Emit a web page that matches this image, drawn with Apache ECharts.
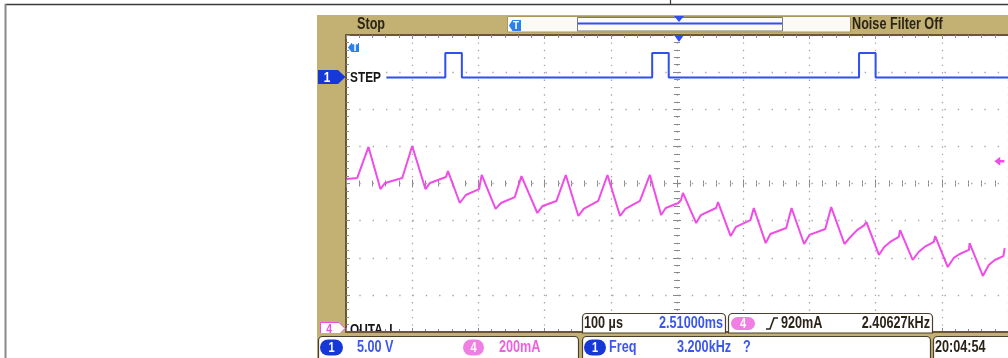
<!DOCTYPE html>
<html><head><meta charset="utf-8">
<script src="https://cdn.jsdelivr.net/npm/echarts@6/dist/echarts.min.js"></script>
<style>html,body{margin:0;padding:0;background:#fff}#c{width:1008px;height:358px}</style>
</head><body><div id="c"></div>
<script>
// ---- data (time in µs relative to trigger, CH1 in volts, CH4 in mA) ----
const stepTimeUs = [-439, -350, -350, -325, -325, -37.5, -37.5, -12.5, -12.5, 275, 275, 300, 300, 500];
const stepVolts  = [0, 0, 3.3, 3.3, 0, 0, 3.3, 3.3, 0, 0, 3.3, 3.3, 0, 0];

const outaTimeUs = [-499,-483,-466,-448,-441,-415,-400,-380,-373,-349,-346,-328,-319,-299,-295,-274,-266,-245,-235,-211,-203,-182,-168,-149,-141,-119,-105,-86,-78,-56,-41,-24,-17,2,6,9,29,36,59,62,81,89,111,116,134,141,165,173,192,200,224,233,253,262,272,283,286,305,313,322,335,337,356,365,374,388,390,409,418,427,441,442,462,471,480,493,495];
const outaMilliAmps = [824,830,997,770,803,830,1002,770,803,835,867,695,738,770,846,663,695,727,840,641,679,706,846,625,663,706,846,625,663,706,846,630,668,695,711,749,587,630,668,700,517,566,603,668,479,528,560,668,474,523,555,673,474,512,549,576,593,415,458,485,512,549,388,431,458,485,517,350,399,420,442,479,302,361,388,409,452];

const triggerLevelMa = 920;
const timeRangeUs = [-500, 500];     // 100 µs/div, 10 div
const ch1RangeV = [-34.28, 5.72];    // 5.00 V/div
const ch4RangeMa = [0, 1600];        // 200 mA/div

const F = "'Liberation Sans','Arimo',sans-serif";
const SX = 0.79;
const TAN = '#c3b173', BROWN = '#6f5530', DARK = '#2b2418', BLUE = '#2f4ff0', PILLB = '#1638d8', PINK = '#f04ce6', PILLP = '#f07ee4', TXTP = '#ee5fe0', TXTB = '#3a56ee';

const chart = echarts.init(document.getElementById('c'), null, {renderer: 'canvas'});

const dotV = {show: true, lineStyle: {color: '#a8a8a8', width: 1.3, type: [1.4, 6.02]}};
const dotH = {show: true, lineStyle: {color: '#a8a8a8', width: 1.3, type: [1.4, 11.9]}};
const tickStyle = {color: '#8a8a8a', width: 1};
function borderAxis(extra) {
  return Object.assign({
    type: 'value', axisLabel: {show: false}, splitLine: {show: false},
    axisLine: {show: true, onZero: false, lineStyle: {color: BROWN, width: 2}},
    axisTick: {show: true, inside: true, length: 4, lineStyle: tickStyle},
    minorTick: {show: true, splitNumber: 5, length: 3, lineStyle: tickStyle}
  }, extra);
}
function centerAxis(extra) {
  return Object.assign({
    type: 'value', axisLabel: {show: false}, splitLine: {show: false},
    axisLine: {show: false, onZero: true, onZeroAxisIndex: 0},
    axisTick: {show: true, inside: true, length: 4, lineStyle: tickStyle},
    minorTick: {show: true, splitNumber: 5, length: 3, lineStyle: tickStyle}
  }, extra);
}
const tx = (text, x, y, fill, size, align, extra) => Object.assign({
  type: 'text', z: 60, x, y, scaleX: SX,
  style: {text, x: 0, y: 0, fill, font: 'bold ' + (size || 16) + 'px ' + F, textAlign: align || 'left', textVerticalAlign: 'middle'}
}, extra || {});
const pill = (x, y, w, h, fill, label) => [
  {type: 'rect', z: 55, shape: {x, y, width: w, height: h, r: h / 2}, style: {fill}},
  tx(label, x + w / 2, y + h / 2 + 0.5, '#fff', 14, 'center')
];
const box = (x, y, w, h, r) => ({type: 'rect', z: 50, shape: {x, y, width: w, height: h, r}, style: {fill: '#fff', stroke: '#4a3f2c', lineWidth: 1.2}});

const graphics = [
  {type: 'line', z: 1, shape: {x1: 5, y1: 4.5, x2: 1008, y2: 4.5}, style: {stroke: '#3a3a3a', lineWidth: 1.5}},
  {type: 'line', z: 1, shape: {x1: 5.5, y1: 4, x2: 5.5, y2: 358}, style: {stroke: '#8a8a8a', lineWidth: 2}},
  {type: 'line', z: 1, shape: {x1: 670.5, y1: 0, x2: 670.5, y2: 4}, style: {stroke: '#3a3a3a', lineWidth: 1.2}},
  {type: 'rect', z: -100, shape: {x: 317, y: 15, width: 700, height: 350}, style: {fill: TAN}},
  {type: 'rect', z: -99, shape: {x: 346, y: 35, width: 665, height: 297}, style: {fill: '#fff'}},
  // top status bar
  {type: 'rect', z: 5, shape: {x: 507.5, y: 16.5, width: 343, height: 15.5}, style: {fill: '#fbfaf4', stroke: '#a89860', lineWidth: 1}},
  {type: 'rect', z: 6, shape: {x: 577.5, y: 17.5, width: 205, height: 13.5}, style: {fill: 'none', stroke: '#7a7a7a', lineWidth: 1}},
  {type: 'line', z: 7, shape: {x1: 578, y1: 23.5, x2: 782, y2: 23.5}, style: {stroke: BLUE, lineWidth: 2}},
  {type: 'polygon', z: 8, shape: {points: [[674, 16], [684, 16], [679, 22]]}, style: {fill: BLUE}},
  {type: 'polygon', z: 8, shape: {points: [[509, 25.5], [512.5, 20], [521, 20], [521, 31], [512.5, 31]]}, style: {fill: '#2a80f0'}},
  tx('T', 516, 25.8, '#fff', 10, 'center', {scaleX: 1}),
  tx('Stop', 357, 24.5, DARK, 16),
  tx('Noise Filter Off', 852, 24.5, DARK, 16),
  // grid markers
  {type: 'polygon', z: 30, shape: {points: [[674, 35], [684, 35], [679, 42]]}, style: {fill: BLUE}},
  {type: 'polygon', z: 30, shape: {points: [[348, 47.5], [351.5, 43], [359, 43], [359, 52], [351.5, 52]]}, style: {fill: '#2a80f0'}},
  tx('T', 355, 47.8, '#fff', 10, 'center', {scaleX: 1}),
  {type: 'polygon', z: 30, shape: {points: [[318, 70], [338, 70], [345.5, 77], [338, 84], [318, 84]]}, style: {fill: PILLB}},
  tx('1', 327, 77.5, '#fff', 15, 'center'),
  tx('STEP', 350, 77.5, '#151515', 15),
  {type: 'polygon', z: 30, shape: {points: [[320.5, 322.5], [339, 322.5], [345, 328.5], [339, 334.5], [320.5, 334.5]]}, style: {fill: '#fff', stroke: PINK, lineWidth: 1}},
  tx('4', 329, 329, PINK, 13, 'center'),
  tx('OUTA_I', 350, 329.5, '#151515', 15, 'left', {z: 35}),
  {type: 'rect', z: 40, shape: {x: 317, y: 333, width: 700, height: 30}, style: {fill: TAN}},
  {type: 'line', z: 41, shape: {x1: 346, y1: 332, x2: 1011, y2: 332}, style: {stroke: BROWN, lineWidth: 2}},
  // bottom readouts
  box(318.5, 336.5, 260, 30, 4),
  ...pill(320, 339.5, 23, 16, PILLB, '1'),
  tx('5.00 V', 357, 347.5, TXTB, 16),
  ...pill(463, 339.5, 21, 16, PILLP, '4'),
  tx('200mA', 499, 347.5, TXTP, 16),
  box(582.5, 313.5, 143, 19.5, [4, 4, 0, 0]),
  tx('100 µs', 584, 323.5, DARK, 16),
  tx('2.51000ms', 723, 323.5, TXTB, 16, 'right'),
  box(728.5, 313.5, 204, 19.5, [4, 4, 0, 0]),
  ...pill(731, 317, 24, 13, PILLP, '4'),
  {type: 'polyline', z: 60, shape: {points: [[766, 329], [770, 329], [774, 318], [778, 318]]}, style: {stroke: DARK, lineWidth: 1.6, fill: 'none'}},
  tx('920mA', 781, 323.5, DARK, 16),
  tx('2.40627kHz', 930, 323.5, DARK, 16, 'right'),
  box(582.5, 336.5, 348, 30, 4),
  ...pill(584, 339.5, 22, 16, PILLB, '1'),
  tx('Freq', 609, 347.5, TXTB, 16),
  tx('3.200kHz', 677, 347.5, TXTB, 16),
  tx('?', 743, 347.5, TXTB, 16),
  box(933.5, 336.5, 90, 30, 4),
  tx('20:04:54', 935, 347.5, DARK, 16)
];

chart.setOption({
  animation: false,
  backgroundColor: 'transparent',
  grid: {left: 346, top: 35, width: 665, height: 297, show: false, containLabel: false},
  xAxis: [
    borderAxis({min: timeRangeUs[0], max: timeRangeUs[1], interval: 100, position: 'bottom', splitLine: dotV}),
    borderAxis({min: timeRangeUs[0], max: timeRangeUs[1], interval: 100, position: 'top'}),
    centerAxis({min: timeRangeUs[0], max: timeRangeUs[1], interval: 100, position: 'bottom'}),
    centerAxis({min: timeRangeUs[0], max: timeRangeUs[1], interval: 100, position: 'top'})
  ],
  yAxis: [
    borderAxis({min: -4, max: 4, interval: 1, position: 'left', splitLine: dotH}),
    {type: 'value', show: false, min: ch1RangeV[0], max: ch1RangeV[1]},
    {type: 'value', show: false, min: ch4RangeMa[0], max: ch4RangeMa[1]},
    centerAxis({min: -4, max: 4, interval: 1, position: 'left'}),
    centerAxis({min: -4, max: 4, interval: 1, position: 'right'})
  ],
  series: [
    {
      name: 'OUTA_I', type: 'line', xAxisIndex: 0, yAxisIndex: 2, z: 10,
      data: outaTimeUs.map((t, i) => [t, outaMilliAmps[i]]),
      showSymbol: false, symbol: 'none', smooth: false,
      lineStyle: {color: PINK, width: 2}, itemStyle: {color: PINK},
      markPoint: {
        symbol: 'path://M0,5L7,0L7,3.5L12,3.5L12,6.5L7,6.5L7,10Z', symbolSize: [10, 9],
        label: {show: false}, itemStyle: {color: PINK},
        data: [{coord: [487, triggerLevelMa]}]
      }
    },
    {
      name: 'STEP', type: 'line', xAxisIndex: 0, yAxisIndex: 1, z: 11,
      data: stepTimeUs.map((t, i) => [t, stepVolts[i]]),
      showSymbol: false, symbol: 'none',
      lineStyle: {color: BLUE, width: 2}, itemStyle: {color: BLUE}
    }
  ],
  graphic: {elements: graphics}
});
</script></body></html>
